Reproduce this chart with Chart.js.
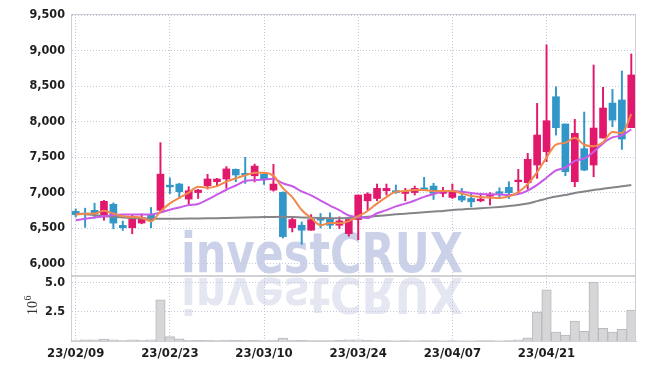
<!DOCTYPE html>
<html>
<head>
<meta charset="utf-8">
<script src="https://cdn.jsdelivr.net/npm/chart.js@4.4.1/dist/chart.umd.min.js"></script>
<style>
	html, body { margin: 0; padding: 0; background: #fff; }
</style>
</head>
<body>
<canvas id="stockChart" width="645" height="370"></canvas>
<script>
// trading days shown on the chart
const dates = [
	"23/02/09", "23/02/10", "23/02/13", "23/02/14", "23/02/15", "23/02/16", "23/02/17", "23/02/20", "23/02/21", "23/02/22",
	"23/02/23", "23/02/24", "23/02/27", "23/02/28", "23/03/02", "23/03/03", "23/03/06", "23/03/07", "23/03/08", "23/03/09",
	"23/03/10", "23/03/13", "23/03/14", "23/03/15", "23/03/16", "23/03/17", "23/03/20", "23/03/21", "23/03/22", "23/03/23",
	"23/03/24", "23/03/27", "23/03/28", "23/03/29", "23/03/30", "23/03/31", "23/04/03", "23/04/04", "23/04/05", "23/04/06",
	"23/04/07", "23/04/10", "23/04/11", "23/04/12", "23/04/13", "23/04/14", "23/04/17", "23/04/18", "23/04/19", "23/04/20",
	"23/04/21", "23/04/24", "23/04/25", "23/04/26", "23/04/27", "23/04/28", "23/05/02", "23/05/03", "23/05/04", "23/05/08",
];

const opens = [
	6735, 6700, 6750, 6656, 6835, 6538, 6505, 6571, 6680, 6750,
	7104, 7120, 6908, 7000, 7097, 7153, 7191, 7327, 7262, 7237,
	7260, 7035, 7003, 6507, 6540, 6470, 6634, 6634, 6540, 6422,
	6620, 6884, 6917, 7026, 7026, 6988, 7000, 7059, 7092, 6988,
	6932, 6950, 6917, 6884, 6950, 7012, 7073, 7153, 7139, 7388,
	7575, 8350, 7966, 7153, 7618, 7388, 7768, 8260, 8304, 7914,
];
const highs = [
	6770, 6780, 6850, 6890, 6855, 6600, 6680, 6700, 6790, 7703,
	7207, 7130, 7083, 7045, 7257, 7200, 7366, 7333, 7496, 7401,
	7265, 7397, 7010, 6648, 6587, 6690, 6705, 6715, 6658, 6620,
	6965, 6998, 7120, 7120, 7106, 7059, 7092, 7215, 7130, 7073,
	7120, 7059, 6988, 6965, 7000, 7068, 7153, 7327, 7552, 8256,
	9080, 8490, 7966, 8031, 8134, 8797, 8482, 8453, 8712, 8952,
];
const lows = [
	6655, 6510, 6640, 6610, 6490, 6467, 6420, 6560, 6505, 6727,
	6986, 6917, 6833, 6917, 7050, 7083, 7060, 7152, 7130, 7150,
	7115, 7020, 6360, 6446, 6271, 6470, 6502, 6493, 6493, 6385,
	6337, 6752, 6884, 6965, 6988, 6884, 6965, 7026, 6903, 6941,
	6917, 6870, 6800, 6870, 6825, 6917, 6917, 7000, 7045, 7200,
	7435, 7810, 7237, 7083, 7308, 7223, 7768, 7927, 7608, 7914,
];
const closes = [
	6690, 6690, 6700, 6877, 6570, 6505, 6632, 6646, 6623, 7259,
	7080, 7012, 7026, 7035, 7191, 7191, 7333, 7248, 7250, 7373,
	7186, 7120, 6380, 6620, 6470, 6620, 6611, 6540, 6601, 6620,
	6965, 6979, 7059, 7059, 6998, 7012, 7059, 7045, 6988, 7002,
	7012, 6894, 6870, 6908, 6965, 6988, 6998, 7176, 7468, 7810,
	8012, 7914, 7294, 7834, 7317, 7909, 8191, 8021, 7754, 8656,
];
const volumes = [
	40000, 90000, 90000, 170000, 90000, 40000, 90000, 80000, 100000, 3530000,
	370000, 190000, 60000, 50000, 60000, 40000, 70000, 50000, 60000, 50000,
	40000, 80000, 260000, 60000, 50000, 40000, 30000, 40000, 50000, 90000,
	110000, 50000, 40000, 30000, 20000, 30000, 20000, 40000, 30000, 20000,
	30000, 20000, 20000, 30000, 30000, 20000, 40000, 90000, 280000, 2490000,
	4390000, 770000, 500000, 1710000, 820000, 5060000, 1090000, 760000, 1000000, 2650000,
];

// moving averages as drawn (5, 10 and 60 day)
const ma5 = [
	6690, 6700, 6705, 6745, 6705, 6668, 6657, 6646, 6595, 6733,
	6848, 6924, 7000, 7082, 7069, 7091, 7155, 7200, 7243, 7279,
	7278, 7235, 7062, 6936, 6755, 6642, 6540, 6572, 6568, 6598,
	6667, 6741, 6845, 6936, 7012, 7021, 7037, 7035, 7020, 7021,
	7021, 6988, 6953, 6937, 6930, 6925, 6946, 7007, 7119, 7288,
	7493, 7676, 7700, 7773, 7674, 7654, 7709, 7854, 7838, 8106,
];
const ma10 = [
	6610, 6630, 6648, 6665, 6685, 6690, 6690, 6690, 6692, 6719,
	6758, 6790, 6823, 6839, 6901, 6970, 7040, 7100, 7163, 7174,
	7185, 7195, 7131, 7089, 7017, 6960, 6888, 6817, 6752, 6677,
	6655, 6641, 6709, 6752, 6805, 6844, 6889, 6940, 6978, 7017,
	7021, 7013, 6994, 6979, 6976, 6973, 6967, 6980, 7028, 7109,
	7209, 7311, 7353, 7446, 7481, 7573, 7693, 7777, 7806, 7890,
];
const ma60 = [
	6705, 6695, 6683, 6670, 6660, 6650, 6642, 6636, 6632, 6630,
	6630, 6632, 6634, 6636, 6638, 6640, 6643, 6646, 6649, 6652,
	6655, 6657, 6658, 6655, 6650, 6645, 6642, 6640, 6640, 6642,
	6648, 6658, 6670, 6682, 6693, 6703, 6712, 6722, 6732, 6742,
	6755, 6763, 6771, 6779, 6788, 6798, 6810, 6825, 6845, 6880,
	6915, 6945, 6965, 6995, 7015, 7035, 7055, 7072, 7088, 7105,
];

const priceTicks = [6000, 6500, 7000, 7500, 8000, 8500, 9000, 9500];
const volumeTicks = [2500000, 5000000];
const dateTicks = ["23/02/09", "23/02/23", "23/03/10", "23/03/24", "23/04/07", "23/04/21"];

const UP = "#e1186c";
const DOWN = "#3196c8";
const GRID = "#c3c7da";
const FRAME = "#cfcfd6";
const TICK_FONT = "'DejaVu Sans Condensed', 'DejaVu Sans', sans-serif";

const candleColors = closes.map((c, i) => (c >= opens[i] ? UP : DOWN));

// watermark, panel frame and the 10^6 unit mark
const panelDecor = {
	id: "panelDecor",
	beforeDraw(chart) {
		const ctx = chart.ctx;
		const yv = chart.scales.yv;
		const text = "investCRUX";
		ctx.save();
		ctx.font = "bold 55px 'DejaVu Sans', sans-serif";
		ctx.textAlign = "center";
		ctx.textBaseline = "alphabetic";
		const sx = 282 / ctx.measureText(text).width;
		ctx.translate(322, yv.top - 4);
		ctx.save();
		ctx.scale(sx, 1);
		ctx.fillStyle = "rgba(160, 172, 214, 0.55)";
		ctx.fillText(text, 0, 0);
		ctx.restore();
		ctx.save();
		ctx.translate(0, 6);
		ctx.scale(sx, -0.9);
		ctx.fillStyle = "rgba(195, 200, 226, 0.45)";
		ctx.fillText(text, 0, 0);
		ctx.restore();
		ctx.restore();
	},
	afterDraw(chart) {
		const { ctx, chartArea } = chart;
		const yv = chart.scales.yv;
		ctx.save();
		ctx.strokeStyle = FRAME;
		ctx.lineWidth = 1;
		ctx.beginPath();
		ctx.moveTo(chartArea.left, Math.round(chartArea.top) + 0.5);
		ctx.lineTo(chartArea.right, Math.round(chartArea.top) + 0.5);
		ctx.moveTo(Math.round(chartArea.right) - 0.5, chartArea.top);
		ctx.lineTo(Math.round(chartArea.right) - 0.5, chartArea.bottom);
		ctx.stroke();
		ctx.strokeStyle = "#c2c2c6";
		ctx.lineWidth = 1.5;
		ctx.beginPath();
		ctx.moveTo(chartArea.left, yv.top);
		ctx.lineTo(chartArea.right, yv.top);
		ctx.stroke();

		// 10^6 label, rotated
		ctx.fillStyle = "#333";
		ctx.translate(33, 308);
		ctx.rotate(-Math.PI / 2);
		ctx.textAlign = "center";
		ctx.textBaseline = "middle";
		ctx.font = "14px 'Liberation Serif', serif";
		ctx.fillText("10", 0, 0);
		ctx.font = "10px 'Liberation Serif', serif";
		ctx.fillText("6", 10, -5);
		ctx.restore();
	},
};

const canvas = document.getElementById("stockChart");

new Chart(canvas, {
	type: "bar",
	data: {
		labels: dates,
		datasets: [
			{
				type: "line",
				label: "MA5",
				data: ma5,
				yAxisID: "y",
				borderColor: "#ef8a4c",
				borderWidth: 2,
				pointRadius: 0,
				cubicInterpolationMode: "monotone",
				order: 1,
			},
			{
				type: "line",
				label: "MA10",
				data: ma10,
				yAxisID: "y",
				borderColor: "#c95ae8",
				borderWidth: 2,
				pointRadius: 0,
				cubicInterpolationMode: "monotone",
				order: 2,
			},
			{
				type: "line",
				label: "MA60",
				data: ma60,
				yAxisID: "y",
				borderColor: "#858589",
				borderWidth: 2,
				pointRadius: 0,
				cubicInterpolationMode: "monotone",
				order: 3,
			},
			{
				label: "body",
				data: opens.map((o, i) => [o, closes[i]]),
				yAxisID: "y",
				backgroundColor: candleColors,
				barThickness: 7,
				minBarLength: 1.5,
				grouped: false,
				order: 4,
			},
			{
				label: "wick",
				data: lows.map((l, i) => [l, highs[i]]),
				yAxisID: "y",
				backgroundColor: candleColors,
				barThickness: 1.3,
				grouped: false,
				order: 5,
			},
			{
				label: "volume",
				data: volumes,
				yAxisID: "yv",
				backgroundColor: "#d6d6d9",
				borderColor: "#b9b9bd",
				borderWidth: 1,
				categoryPercentage: 1,
				barPercentage: 1,
				grouped: false,
				order: 6,
			},
		],
	},
	options: {
		responsive: false,
		animation: false,
		layout: { padding: { left: 0, right: 9, top: 14, bottom: 0 } },
		plugins: {
			legend: { display: false },
			tooltip: { enabled: false },
		},
		scales: {
			x: {
				offset: true,
				grid: {
					offset: false,
					color: GRID,
					drawTicks: false,
				},
				border: { color: FRAME, dash: [1, 2] },
				ticks: {
					autoSkip: false,
					maxRotation: 0,
					padding: 5,
					color: "#1e1e1e",
					font: { family: TICK_FONT, size: 13, weight: "bold" },
					callback: function (value) {
						const label = this.getLabelForValue(value);
						return dateTicks.includes(label) ? label : null;
					},
				},
				afterFit: (scale) => {
					scale.height = 29;
				},
			},
			yv: {
				position: "left",
				stack: "panes",
				stackWeight: 65,
				min: 0,
				max: 5575000,
				grid: { color: GRID, drawTicks: false },
				border: { color: FRAME, dash: [1, 2] },
				ticks: {
					padding: 6,
					color: "#1e1e1e",
					font: { family: TICK_FONT, size: 12.5, weight: "bold" },
					callback: (v) => (v / 1e6).toFixed(1),
				},
				afterBuildTicks: (scale) => {
					scale.ticks = volumeTicks.map((v) => ({ value: v }));
				},
				afterFit: (scale) => {
					scale.width = 71;
				},
			},
			y: {
				position: "left",
				stack: "panes",
				stackWeight: 262,
				min: 5825,
				max: 9515,
				grid: { color: GRID, drawTicks: false },
				border: { color: FRAME, dash: [1, 2] },
				ticks: {
					padding: 6,
					color: "#1e1e1e",
					font: { family: TICK_FONT, size: 12.5, weight: "bold" },
					callback: (v) => v.toLocaleString("en-US"),
				},
				afterBuildTicks: (scale) => {
					scale.ticks = priceTicks.map((v) => ({ value: v }));
				},
				afterFit: (scale) => {
					scale.width = 71;
				},
			},
		},
	},
	plugins: [panelDecor],
});
</script>
</body>
</html>
